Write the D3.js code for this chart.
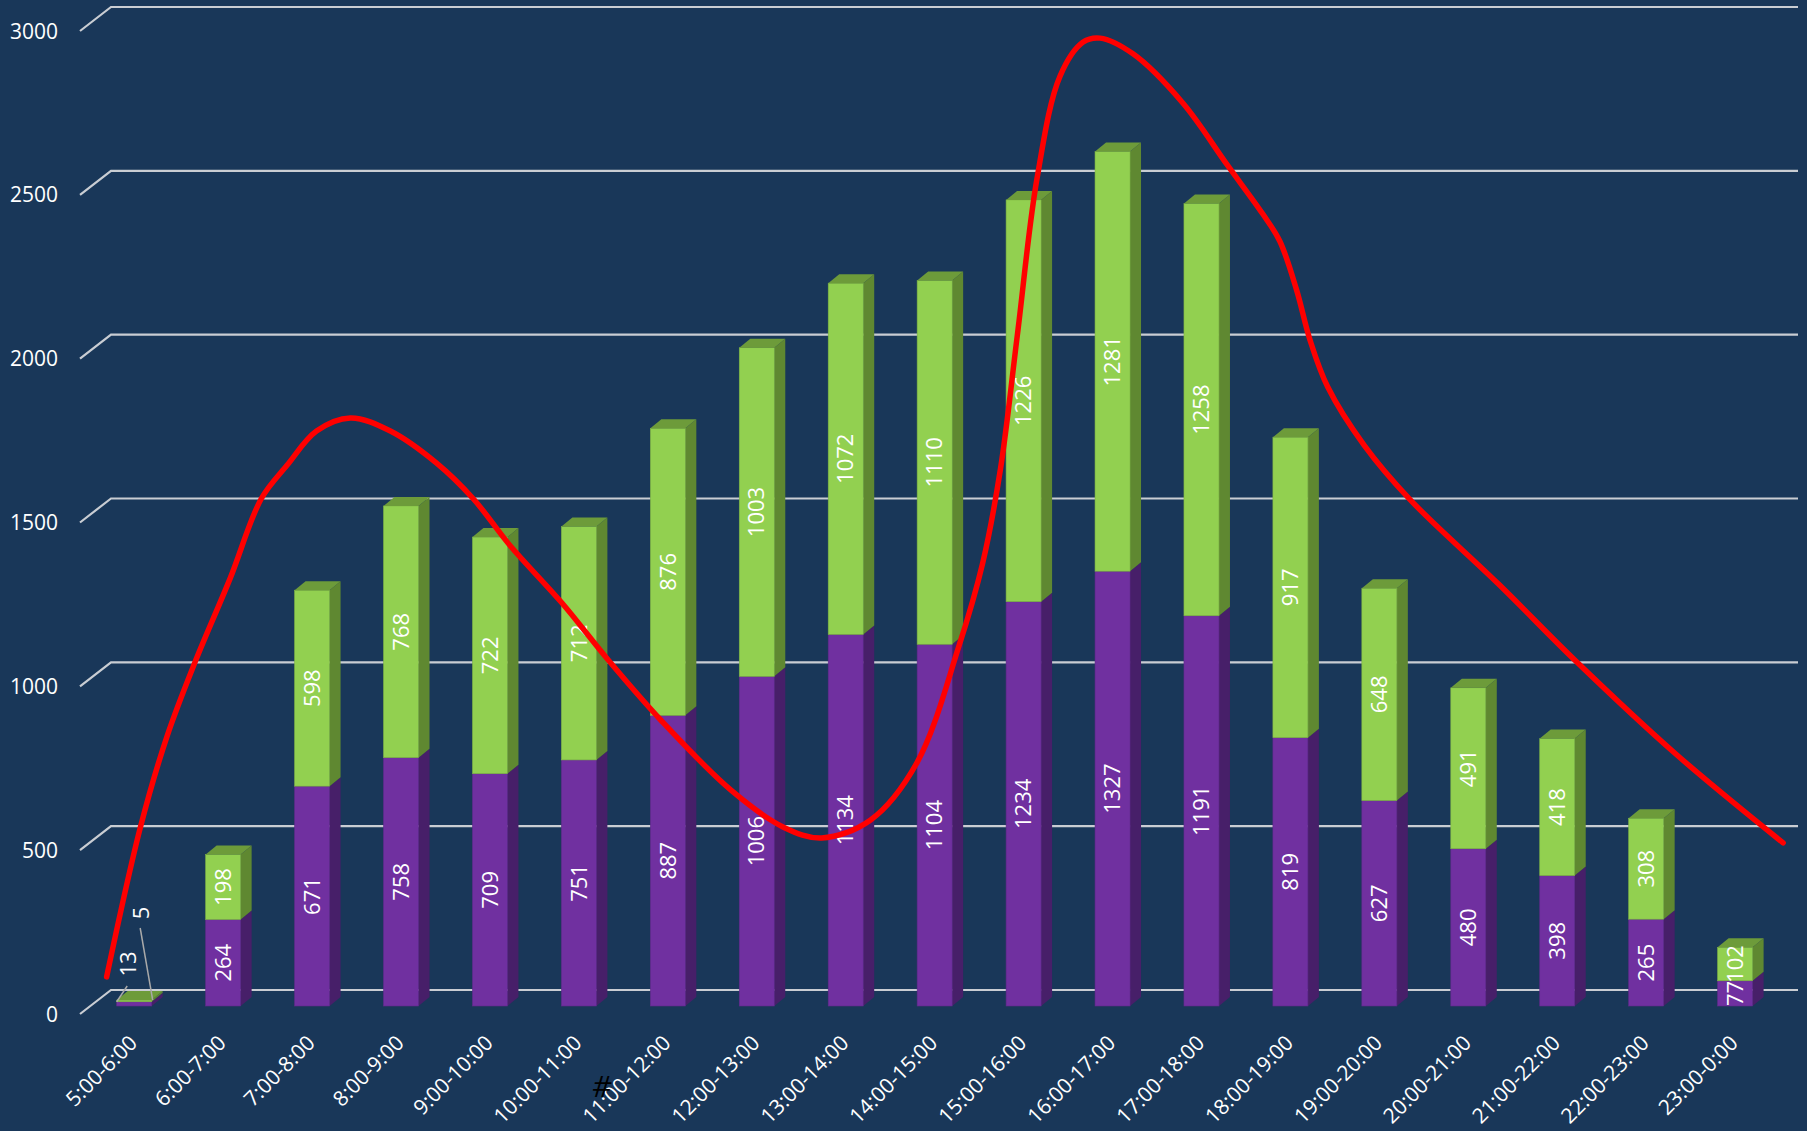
<!DOCTYPE html>
<html>
<head>
<meta charset="utf-8">
<script src="https://cdn.jsdelivr.net/npm/d3@7"></script>
<style>
  html, body { margin: 0; padding: 0; background: #193759; }
  svg { display: block; }
  text { font-family: "Open Sans", "Noto Sans", sans-serif; }
</style>
</head>
<body>
<svg id="chart" width="1807" height="1131"></svg>
<script>
// Hourly counts, two stacked series
const categories = ["5:00-6:00", "6:00-7:00", "7:00-8:00", "8:00-9:00", "9:00-10:00",
  "10:00-11:00", "11:00-12:00", "12:00-13:00", "13:00-14:00", "14:00-15:00",
  "15:00-16:00", "16:00-17:00", "17:00-18:00", "18:00-19:00", "19:00-20:00",
  "20:00-21:00", "21:00-22:00", "22:00-23:00", "23:00-0:00"];
const seriesPurple = [13, 264, 671, 758, 709, 751, 887, 1006, 1134, 1104, 1234, 1327, 1191, 819, 627, 480, 398, 265, 77];
const seriesGreen = [5, 198, 598, 768, 722, 712, 876, 1003, 1072, 1110, 1226, 1281, 1258, 917, 648, 491, 418, 308, 102];
const yTicks = [0, 500, 1000, 1500, 2000, 2500, 3000];

// Hand-drawn trend curve: position along the category axis and value
const trendPos = [-0.31, 0.07, 0.37, 0.68, 1.08, 1.43, 1.72, 2.05, 2.43, 2.88, 3.40, 3.81, 4.23,
  4.81, 5.33, 5.92, 6.71, 7.30, 7.73, 8.28, 8.80, 9.27, 9.54, 9.74, 9.93, 10.15, 10.41, 10.67,
  10.86, 11.23, 11.79, 12.29, 12.69, 12.88, 13.07, 13.22, 13.42, 13.83, 14.34, 15.34, 16.22, 17.33, 18.54];
const trendValue = [40, 497, 775, 998, 1257, 1500, 1602, 1706, 1746, 1706, 1608, 1500, 1355,
  1181, 1007, 824, 610, 497, 464, 519, 693, 1047, 1303, 1590, 1999, 2475, 2789, 2893,
  2905, 2857, 2707, 2518, 2368, 2286, 2136, 1984, 1840, 1662, 1498, 1239, 1001, 721, 449];

const svg = d3.select("#chart");

// Scales: back wall for gridlines, bars are drawn a little in front of it
const yBack = d3.scaleLinear().domain([0, 3000]).range([990, 7]);
const frontOffset = 16;
const yFront = v => yBack(v) + frontOffset;
const x = d3.scalePoint().domain(categories).range([134.2, 1735.1]);
const xPos = d3.scaleLinear().domain([0, categories.length - 1]).range([134.2, 1735.1]);
const barW = 35, depthX = 11, depthY = 9;

const colors = {
  purple: { front: "#7030A0", side: "#471F69", top: "#5A2785" },
  green:  { front: "#92D050", side: "#5F8831", top: "#6D9B3A" }
};

// Gridlines: floor edge diagonal + back wall line
const grid = svg.append("g");
yTicks.forEach(t => {
  const yy = yBack(t);
  grid.append("path")
    .attr("d", `M80,${yy + 24}L111,${yy}L1798,${yy}`)
    .attr("fill", "none").attr("stroke", "#C9CDD3").attr("stroke-width", 2.2);
});

// Y axis labels
svg.append("g").selectAll("text").data(yTicks).join("text")
  .attr("x", 58).attr("y", d => yBack(d) + 24).attr("dy", "0.36em")
  .attr("text-anchor", "end").attr("fill", "#FFFFFF").attr("font-size", 21)
  .text(d => d);

// Bars
const bars = svg.append("g");
categories.forEach((c, i) => {
  const left = x(c) - barW / 2;
  const segs = [
    { v0: 0, v1: seriesPurple[i], col: colors.purple },
    { v0: seriesPurple[i], v1: seriesPurple[i] + seriesGreen[i], col: colors.green }
  ];
  segs.forEach((s, k) => {
    const yt = yFront(s.v1), yb = yFront(s.v0);
    const g = bars.append("g");
    g.append("polygon")
      .attr("points", [[left + barW, yt], [left + barW + depthX, yt - depthY],
        [left + barW + depthX, yb - depthY], [left + barW, yb]].join(" "))
      .attr("fill", s.col.side);
    g.append("rect")
      .attr("x", left).attr("y", yt).attr("width", barW).attr("height", Math.max(0, yb - yt))
      .attr("fill", s.col.front)
      .attr("stroke", d3.color(s.col.front).darker(0.4)).attr("stroke-width", 0.6);
    if (k === segs.length - 1) {
      g.append("polygon")
        .attr("points", [[left, yt], [left + depthX, yt - depthY],
          [left + barW + depthX, yt - depthY], [left + barW, yt]].join(" "))
        .attr("fill", s.col.top);
    }
  });
});

// Value labels, rotated, centred on each segment
const labels = svg.append("g").attr("fill", "#FFFFFF").attr("font-size", 22);
categories.forEach((c, i) => {
  const cx = x(c);
  const p = seriesPurple[i], gv = seriesGreen[i];
  if (i === 0) {
    // segments too thin: labels placed above with leader lines
    const base = yFront(0);
    labels.append("line")
      .attr("x1", cx - barW / 2).attr("y1", yFront(p))
      .attr("x2", cx - 7).attr("y2", base - 20)
      .attr("stroke", "#A9A9A9").attr("stroke-width", 1.5);
    labels.append("line")
      .attr("x1", cx + barW / 2 + 1).attr("y1", yFront(p + gv))
      .attr("x2", cx + 6).attr("y2", base - 78)
      .attr("stroke", "#A9A9A9").attr("stroke-width", 1.5);
    labels.append("text")
      .attr("transform", `translate(${cx - 6},${base - 42}) rotate(-90)`)
      .attr("text-anchor", "middle").attr("dy", "0.35em").text(p);
    labels.append("text")
      .attr("transform", `translate(${cx + 7},${base - 93}) rotate(-90)`)
      .attr("text-anchor", "middle").attr("dy", "0.35em").text(gv);
    return;
  }
  [[0, p], [p, p + gv]].forEach(([a, b]) => {
    const cy = (yFront(a) + yFront(b)) / 2;
    labels.append("text")
      .attr("transform", `translate(${cx},${cy}) rotate(-90)`)
      .attr("text-anchor", "middle").attr("dy", "0.35em")
      .text(b - a);
  });
});

// Trend curve
const trend = trendPos.map((p, i) => [xPos(p), yBack(trendValue[i])]);
svg.append("path")
  .attr("d", d3.line().curve(d3.curveCatmullRom.alpha(0.5))(trend))
  .attr("fill", "none").attr("stroke", "#FF0000").attr("stroke-width", 5.5)
  .attr("stroke-linecap", "round").attr("stroke-linejoin", "round");

// X axis labels
svg.append("g").selectAll("text").data(categories).join("text")
  .attr("transform", d => `translate(${x(d) - 1},${1039}) rotate(-45)`)
  .attr("text-anchor", "end").attr("dy", "0.35em")
  .attr("fill", "#FFFFFF").attr("font-size", 21)
  .text(d => d);

// Stray mark under the axis
svg.append("text")
  .attr("x", 592).attr("y", 1097)
  .attr("fill", "#000000").attr("font-size", 30).attr("font-style", "italic")
  .text("#");
</script>
</body>
</html>
